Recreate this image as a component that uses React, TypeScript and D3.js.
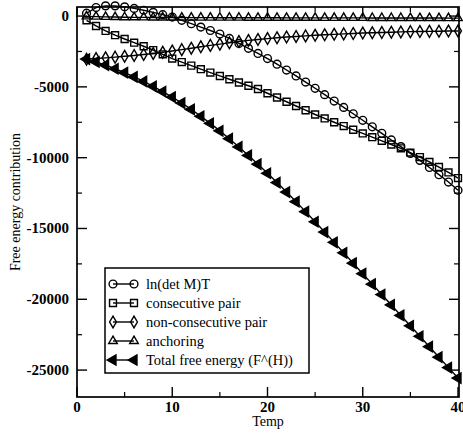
import React from 'react';
import * as d3 from 'd3';

const temps = [1, 2, 3, 4, 5, 6, 7, 8, 9, 10, 11, 12, 13, 14, 15, 16, 17, 18, 19, 20,
  21, 22, 23, 24, 25, 26, 27, 28, 29, 30, 31, 32, 33, 34, 35, 36, 37, 38, 39, 40];

const lnDetMT = [200, 600, 720, 720, 650, 540, 410, 260, 100, -70, -300, -540, -780, -1020, -1270, -1580, -1930, -2280, -2640, -3000,
  -3400, -3810, -4230, -4660, -5100, -5550, -6000, -6450, -6900, -7360, -7820, -8280, -8750, -9220, -9700, -10190, -10690, -11200, -11720, -12300];

const consecutivePair = [-300, -700, -1050, -1350, -1620, -1880, -2130, -2400, -2700, -3000, -3250, -3500, -3750, -3990, -4230, -4460, -4690, -4920, -5150, -5450,
  -5750, -6050, -6350, -6650, -6950, -7230, -7500, -7770, -8030, -8290, -8550, -8810, -9070, -9340, -9640, -9960, -10300, -10660, -11040, -11440];

const nonConsecutivePair = [-3050, -3000, -2950, -2900, -2840, -2780, -2710, -2640, -2560, -2470, -2370, -2270, -2170, -2070, -1980, -1890, -1800, -1720, -1650, -1590,
  -1530, -1480, -1440, -1400, -1360, -1320, -1290, -1260, -1230, -1200, -1180, -1160, -1140, -1120, -1100, -1090, -1080, -1070, -1060, -1050];

const anchoring = [-20, -40, -60, -70, -80, -90, -95, -100, -100, -105, -105, -110, -110, -110, -115, -115, -115, -120, -120, -120,
  -120, -125, -125, -125, -125, -130, -130, -130, -130, -130, -135, -135, -135, -135, -140, -140, -140, -140, -145, -145];

const totalFreeEnergy = [-3040, -3240, -3465, -3720, -4000, -4300, -4620, -4965, -5330, -5720, -6140, -6590, -7075, -7575, -8105, -8660, -9240, -9840, -10460, -11100,
  -11755, -12425, -13110, -13810, -14525, -15250, -15980, -16720, -17450, -18190, -18930, -19665, -20400, -21140, -21875, -22610, -23350, -24090, -24825, -25560];

const xMajor = [0, 10, 20, 30, 40];
const xMinor = [5, 15, 25, 35];
const yMajor = [0, -5000, -10000, -15000, -20000, -25000];
const yMinor = [-2500, -7500, -12500, -17500, -22500];

const seriesNames = ['ln(det M)T', 'consecutive pair', 'non-consecutive pair', 'anchoring', 'Total free energy (F^(H))'];

const FONT = "'Liberation Serif', 'DejaVu Serif', serif";

const W = 463;
const H = 438;
const left = 77, right = 459, top = 7, bottom = 397;

const x = d3.scaleLinear().domain([0, 40]).range([left, right - 1]);
const y = d3.scaleLinear().domain([-26900, 640]).range([bottom, top]);

type Sym = { type: d3.SymbolType; size: number; rotate: number; filled: boolean };

const symbols: Sym[] = [
  { type: d3.symbolCircle, size: 48, rotate: 0, filled: false },
  { type: d3.symbolSquare, size: 48, rotate: 0, filled: false },
  { type: d3.symbolDiamond, size: 40, rotate: 0, filled: false },
  { type: d3.symbolTriangle, size: 32, rotate: 0, filled: false },
  { type: d3.symbolTriangle, size: 46, rotate: -90, filled: true },
];

const allSeries = [lnDetMT, consecutivePair, nonConsecutivePair, anchoring, totalFreeEnergy];

const Marker = ({ s, cx, cy }: { s: Sym; cx: number; cy: number }) => {
  const d = d3.symbol().type(s.type).size(s.size)() || '';
  return (
    <path
      d={d}
      transform={`translate(${cx},${cy}) rotate(${s.rotate})`}
      fill={s.filled ? '#000' : 'none'}
      stroke="#000"
      strokeWidth={1.4}
    />
  );
};

const txt = { fontFamily: FONT };

const App = () => {
  const line = d3.line<number>().x((_, i) => x(temps[i])).y((v) => y(v));

  const legX = 105, legY = 268, legW = 204, legH = 105, rowH = 19;

  return (
    <svg width={W} height={H} style={{ position: 'absolute', left: 0, top: 0, background: '#fff' }}>
      <rect x={0} y={0} width={W} height={H} fill="#fff" />

      {/* series */}
      {allSeries.map((vals, si) => (
        <g key={si}>
          <path d={line(vals) || ''} fill="none" stroke="#000" strokeWidth={1.4} />
          {vals.map((v, i) => (
            <Marker key={i} s={symbols[si]} cx={x(temps[i])} cy={y(v)} />
          ))}
        </g>
      ))}

      {/* frame */}
      <rect x={left} y={top} width={right - left} height={bottom - top} fill="none" stroke="#000" strokeWidth={1.7} />

      {/* x ticks */}
      {xMajor.map((t) => (
        <g key={'xM' + t}>
          <line x1={x(t)} x2={x(t)} y1={bottom} y2={bottom - 10} stroke="#000" strokeWidth={1.4} />
          <line x1={x(t)} x2={x(t)} y1={top} y2={top + 10} stroke="#000" strokeWidth={1.4} />
          <text x={x(t)} y={412} textAnchor="middle" fontSize={15} fontWeight="bold" style={txt}>{t}</text>
        </g>
      ))}
      {xMinor.map((t) => (
        <g key={'xm' + t}>
          <line x1={x(t)} x2={x(t)} y1={bottom} y2={bottom - 5} stroke="#000" strokeWidth={1.2} />
          <line x1={x(t)} x2={x(t)} y1={top} y2={top + 5} stroke="#000" strokeWidth={1.2} />
        </g>
      ))}

      {/* y ticks */}
      {yMajor.map((t) => (
        <g key={'yM' + t}>
          <line x1={left} x2={left + 10} y1={y(t)} y2={y(t)} stroke="#000" strokeWidth={1.4} />
          <line x1={right} x2={right - 10} y1={y(t)} y2={y(t)} stroke="#000" strokeWidth={1.4} />
          <text x={69} y={y(t) + 5} textAnchor="end" fontSize={15} fontWeight="bold" style={txt}>{t}</text>
        </g>
      ))}
      {yMinor.map((t) => (
        <g key={'ym' + t}>
          <line x1={left} x2={left + 5} y1={y(t)} y2={y(t)} stroke="#000" strokeWidth={1.2} />
          <line x1={right} x2={right - 5} y1={y(t)} y2={y(t)} stroke="#000" strokeWidth={1.2} />
        </g>
      ))}

      {/* axis titles */}
      <text x={268} y={426} textAnchor="middle" fontSize={14} style={txt}>Temp</text>
      <text transform={`translate(20,${202}) rotate(-90)`} textAnchor="middle" fontSize={14} style={txt}>Free energy contribution</text>

      {/* legend */}
      <rect x={legX} y={legY} width={legW} height={legH} fill="#fff" stroke="#000" strokeWidth={1.5} />
      {seriesNames.map((name, i) => {
        const cy = legY + 16 + i * rowH;
        return (
          <g key={name}>
            <line x1={113} x2={134} y1={cy} y2={cy} stroke="#000" strokeWidth={1.4} />
            <Marker s={symbols[i]} cx={113} cy={cy} />
            <Marker s={symbols[i]} cx={134} cy={cy} />
            <text x={146} y={cy + 4.5} fontSize={14.5} style={txt}>{name}</text>
          </g>
        );
      })}
    </svg>
  );
};

export default App;
